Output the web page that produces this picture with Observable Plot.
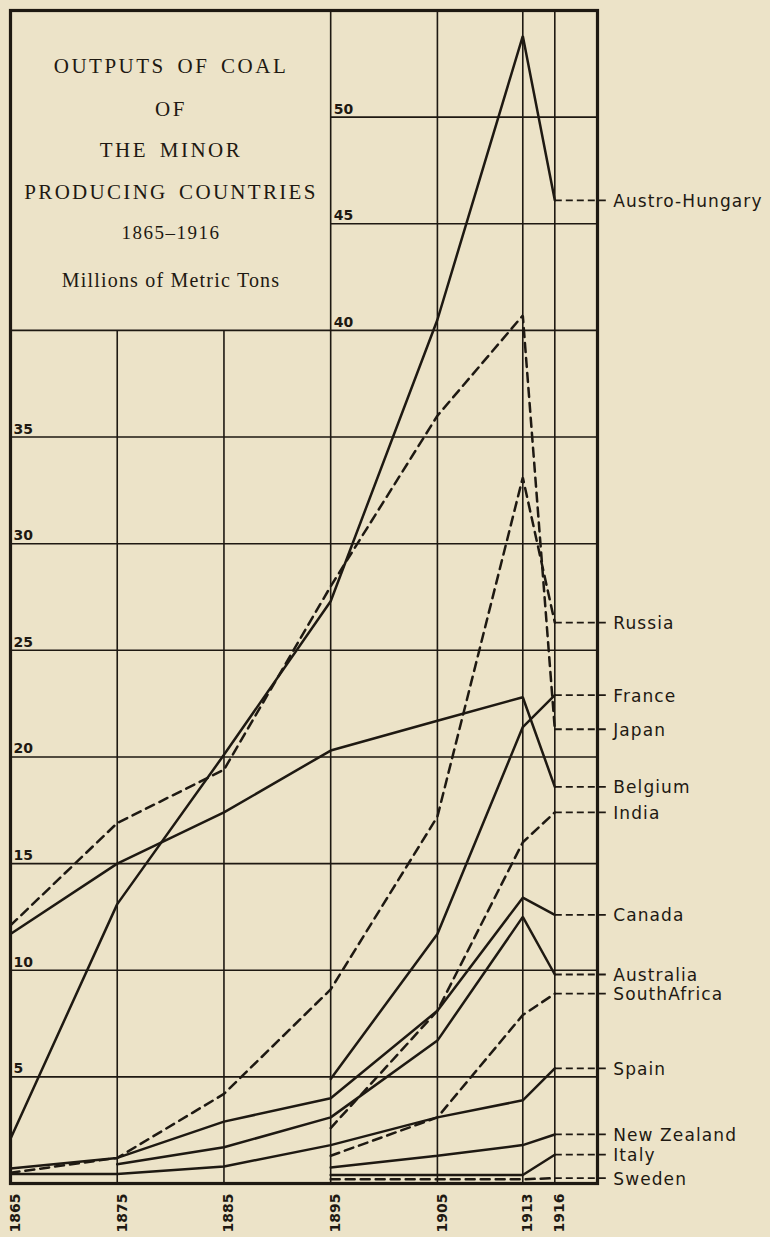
<!DOCTYPE html>
<html>
<head>
<meta charset="utf-8">
<script src="https://cdn.jsdelivr.net/npm/d3@7"></script>
<script src="https://cdn.jsdelivr.net/npm/@observablehq/plot@0.6"></script>
<style>
  html, body { margin: 0; padding: 0; background: #ece3c8; }
  #wrap { position: relative; width: 770px; height: 1237px; overflow: hidden; background: #ece3c8; }
  #wrap svg { display: block; position: absolute; left: 0; top: 0; }
  .t { position: absolute; left: 10px; width: 322px; text-align: center; white-space: nowrap;
       font-family: "Liberation Serif", "DejaVu Serif", serif; color: #1e1912; line-height: 1; }
</style>
</head>
<body>
<div id="wrap">
  <div class="t" style="top:56px;font-size:21px;letter-spacing:2.5px;word-spacing:4px;">OUTPUTS OF COAL</div>
  <div class="t" style="top:99px;font-size:21px;letter-spacing:2.5px;">OF</div>
  <div class="t" style="top:140px;font-size:21px;letter-spacing:2.5px;word-spacing:4px;">THE MINOR</div>
  <div class="t" style="top:182px;font-size:21px;letter-spacing:2.3px;word-spacing:4px;">PRODUCING COUNTRIES</div>
  <div class="t" style="top:223px;font-size:19px;letter-spacing:1.5px;">1865–1916</div>
  <div class="t" style="top:270px;font-size:20px;letter-spacing:1.2px;">Millions of Metric Tons</div>
</div>
<script>
// ---- data ----
const years = [1865, 1875, 1885, 1895, 1905, 1913, 1916];
const yearLabels = ["1865", "1875", "1885", "1895", "1905", "1913", "1916"];

const seriesNames = ["Austro-Hungary", "Russia", "France", "Belgium", "Japan", "India",
  "Canada", "Australia", "South Africa", "Spain", "New Zealand", "Italy", "Sweden"];
const austroHungary = [2.1, 13.1, 20.1, 27.3, 40.5, 53.8, 46.1];
const russia        = [0.5, 1.2, 4.2, 9.1, 17.2, 33.1, 26.3];
const france        = [12.1, 16.9, 19.4, 28.0, 36.0, 40.7, 21.3];
const belgium       = [11.7, 15.0, 17.4, 20.3, 21.7, 22.8, 18.6];
const japan         = [null, null, null, 4.9, 11.7, 21.4, 22.9];
const india         = [null, null, null, 2.6, 8.1, 16.0, 17.4];
const canada        = [0.7, 1.2, 2.9, 4.0, 8.1, 13.4, 12.6];
const australia     = [null, 0.9, 1.7, 3.1, 6.7, 12.5, 9.8];
const southAfrica   = [null, null, null, 1.3, 3.1, 7.9, 8.9];
const spain         = [0.45, 0.45, 0.8, 1.8, 3.1, 3.9, 5.4];
const newZealand    = [null, null, null, 0.75, 1.3, 1.8, 2.3];
const italy         = [null, null, null, 0.4, 0.4, 0.4, 1.35];
const sweden        = [null, null, null, 0.2, 0.2, 0.2, 0.25];
const seriesValues = [austroHungary, russia, france, belgium, japan, india,
  canada, australia, southAfrica, spain, newZealand, italy, sweden];
const dashedSeries = ["Russia", "France", "India", "South Africa", "Sweden"];

// right-hand labels (as lettered on the chart) and the level of their leaders
const labelNames  = ["Austro-Hungary", "Russia", "France", "Japan", "Belgium", "India",
  "Canada", "Australia", "SouthAfrica", "Spain", "New Zealand", "Italy", "Sweden"];
const labelValues = [46.1, 26.3, 22.9, 21.3, 18.6, 17.4, 12.6, 9.8, 8.9, 5.4, 2.3, 1.35, 0.25];

// grid / tick values
const yTicks = [5, 10, 15, 20, 25, 30, 35, 40, 45, 50];
const yGridFull = [5, 10, 15, 20, 25, 30, 35, 40];
const yGridUpper = [45, 50];
const xGridLower = [1875, 1885];
const xGridFull = [1895, 1905, 1913, 1916];

// ---- build ----
const ink = "#1e1912";
const rows = [];
seriesNames.forEach((name, i) => {
  seriesValues[i].forEach((v, j) => {
    if (v != null) rows.push({series: name, year: years[j], value: v, dashed: dashedSeries.includes(name)});
  });
});
const labels = labelNames.map((n, i) => ({name: n, value: labelValues[i]}));
const ticks = yTicks.map(v => ({value: v, at: v >= 40 ? 1895 : 1865}));

const chart = Plot.plot({
  width: 770,
  height: 1237,
  marginLeft: 10,
  marginRight: 173,
  marginTop: 10,
  marginBottom: 54,
  x: {domain: [1865, 1920], axis: null},
  y: {domain: [0, 55], axis: null},
  style: {background: "transparent", color: ink, overflow: "visible"},
  marks: [
    Plot.ruleY(yGridFull, {x1: () => 1865, x2: () => 1920, stroke: ink, strokeWidth: 1.6}),
    Plot.ruleY(yGridUpper, {x1: () => 1895, x2: () => 1920, stroke: ink, strokeWidth: 1.6}),
    Plot.ruleX(xGridLower, {y1: () => 0, y2: () => 40, stroke: ink, strokeWidth: 1.6}),
    Plot.ruleX(xGridFull, {y1: () => 0, y2: () => 55, stroke: ink, strokeWidth: 1.6}),
    Plot.line(rows.filter(d => !d.dashed), {x: "year", y: "value", z: "series", stroke: ink, strokeWidth: 2.5, strokeLinejoin: "miter"}),
    Plot.line(rows.filter(d => d.dashed), {x: "year", y: "value", z: "series", stroke: ink, strokeWidth: 2.5, strokeDasharray: "9,6", strokeLinejoin: "miter"}),
    Plot.frame({stroke: ink, strokeWidth: 3.2}),
    Plot.link(labels, {x1: () => 1916, x2: () => 1921.1, y1: "value", y2: "value", stroke: ink, strokeWidth: 1.8, strokeDasharray: "7,4"}),
    Plot.text(labels, {x: () => 1921.1, y: "value", text: "name", textAnchor: "start", dx: 4, dy: 1,
      fontFamily: "DejaVu Sans", fontSize: 17, fill: ink}),
    Plot.text(ticks, {x: "at", y: "value", text: d => String(d.value), textAnchor: "start", dx: 3, dy: -8,
      fontFamily: "DejaVu Sans", fontWeight: "bold", fontSize: 14, fill: ink}),
    Plot.text(years, {x: d => d, y: () => 0, text: (d, i) => yearLabels[i], rotate: -90, textAnchor: "end",
      dx: 5, dy: 10, fontFamily: "DejaVu Sans", fontWeight: "bold", fontSize: 14, fill: ink})
  ]
});
// the hand lettering on the right is spaced out a little
chart.querySelectorAll("g[aria-label='text'] text").forEach(t => {
  if (/[a-z]/i.test(t.textContent)) t.style.letterSpacing = "1.1px";
});
document.getElementById("wrap").prepend(chart);
</script>
</body>
</html>
